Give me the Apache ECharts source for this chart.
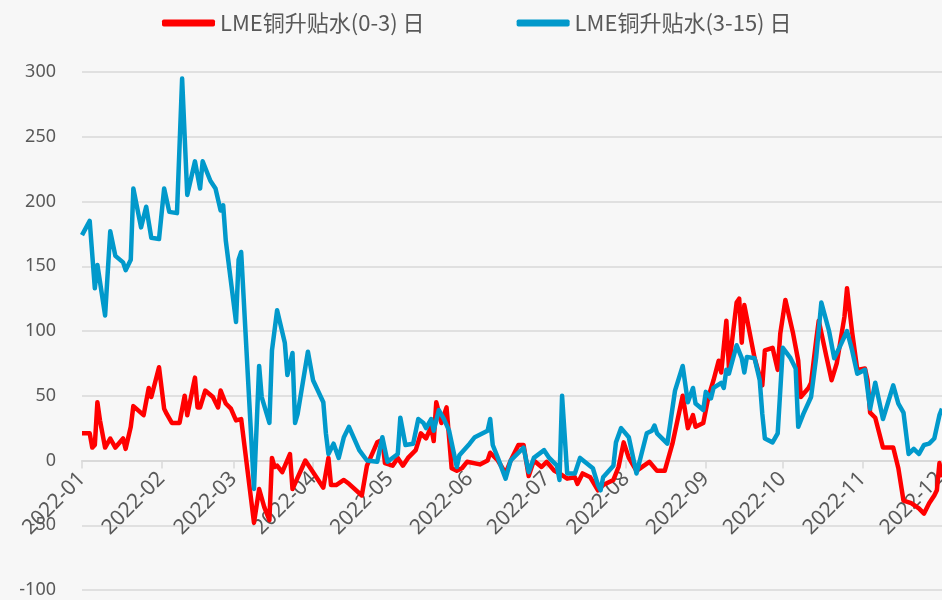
<!DOCTYPE html>
<html>
<head>
<meta charset="utf-8">
<script src="https://cdn.jsdelivr.net/npm/echarts/dist/echarts.min.js"></script>
<style>
  html, body { margin: 0; padding: 0; background: #f7f7f7; }
  #chart { width: 942px; height: 600px; }
</style>
</head>
<body>
<div id="chart"></div>
<script>
// 图例名称
const seriesNames = ['LME铜升贴水(0-3) 日', 'LME铜升贴水(3-15) 日']

// 0-3 升贴水 (日期 MM-DD, 2022年)
const redDates = [
  '01-01', '01-04', '01-05', '01-06', '01-07', '01-08', '01-10', '01-12', '01-14', '01-17',
  '01-18', '01-20', '01-21', '01-25', '01-27', '01-28', '01-31', '02-02', '02-03', '02-05',
  '02-08', '02-10', '02-11', '02-14', '02-15', '02-16', '02-18', '02-21', '02-23', '02-24',
  '02-26', '02-28', '03-02', '03-04', '03-09', '03-11', '03-13', '03-15', '03-16', '03-17',
  '03-18', '03-20', '03-23', '03-24', '03-29', '03-31', '04-05', '04-07', '04-08', '04-10',
  '04-13', '04-15', '04-20', '04-22', '04-26', '04-28', '04-29', '05-02', '05-04', '05-06',
  '05-08', '05-11', '05-13', '05-15', '05-17', '05-18', '05-19', '05-21', '05-23', '05-25',
  '05-27', '05-29', '05-31', '06-05', '06-08', '06-09', '06-12', '06-15', '06-17', '06-20',
  '06-22', '06-24', '06-26', '06-29', '07-01', '07-04', '07-06', '07-09', '07-12', '07-13',
  '07-15', '07-18', '07-21', '07-23', '07-27', '07-29', '07-31', '08-02', '08-05', '08-10',
  '08-13', '08-16', '08-19', '08-23', '08-25', '08-27', '08-28', '08-31', '09-02', '09-04',
  '09-06', '09-07', '09-09', '09-10', '09-13', '09-14', '09-15', '09-16', '09-20', '09-23',
  '09-24', '09-27', '09-29', '09-30', '10-02', '10-05', '10-07', '10-08', '10-11', '10-12',
  '10-14', '10-15', '10-18', '10-20', '10-22', '10-25', '10-26', '10-28', '10-30', '11-02',
  '11-03', '11-04', '11-06', '11-09', '11-13', '11-15', '11-17', '11-20', '11-23', '11-25',
  '11-27', '11-29', '11-30', '12-01', '12-02'
]
const redValues = [
  21, 21, 10, 12, 45, 31, 10, 17, 10, 17,
  9, 26, 42, 35, 56, 49, 72, 40, 36, 29,
  29, 50, 35, 64, 41, 41, 54, 49, 41, 54,
  44, 40, 31, 32, -48, -22, -36, -46, 2, -5,
  -4, -9, 5, -22, 0, -6, -21, 2, -19, -19,
  -15, -18, -27, -4, 14, 16, -2, -4, 2, -4,
  2, 8, 21, 17, 26, 15, 45, 29, 41, -6,
  -8, -6, -1, -3, 0, 6, 0, -10, 0, 12,
  12, -12, 0, -5, -1, -8, -10, -14, -13, -18,
  -10, -13, -23, -19, -15, -5, 14, 2, -8, -1,
  -8, -8, 13, 50, 25, 35, 26, 29, 49, 62,
  77, 68, 108, 72, 122, 125, 91, 120, 79, 58,
  85, 87, 70, 98, 124, 98, 77, 49, 56, 60,
  93, 108, 80, 62, 75, 111, 133, 99, 70, 71,
  62, 37, 33, 10, 10, -6, -31, -33, -37, -41,
  -33, -27, -23, -2, -13
]

// 3-15 升贴水
const blueDates = [
  '01-01', '01-04', '01-06', '01-07', '01-10', '01-12', '01-14', '01-17', '01-18', '01-20',
  '01-21', '01-24', '01-26', '01-28', '01-31', '02-02', '02-04', '02-07', '02-09', '02-11',
  '02-14', '02-16', '02-17', '02-20', '02-22', '02-24', '02-25', '02-26', '03-02', '03-03',
  '03-04', '03-09', '03-11', '03-12', '03-15', '03-16', '03-18', '03-21', '03-22', '03-24',
  '03-25', '03-26', '03-30', '04-01', '04-05', '04-06', '04-07', '04-09', '04-11', '04-13',
  '04-15', '04-19', '04-22', '04-26', '04-28', '04-30', '05-04', '05-05', '05-07', '05-10',
  '05-12', '05-14', '05-15', '05-17', '05-18', '05-20', '05-22', '05-24', '05-27', '05-28',
  '06-01', '06-03', '06-08', '06-09', '06-10', '06-12', '06-15', '06-17', '06-22', '06-24',
  '06-26', '06-30', '07-02', '07-05', '07-06', '07-07', '07-09', '07-12', '07-14', '07-19',
  '07-21', '07-22', '07-23', '07-27', '07-28', '07-30', '08-02', '08-05', '08-09', '08-11',
  '08-12', '08-13', '08-17', '08-20', '08-23', '08-25', '08-27', '08-28', '08-31', '09-01',
  '09-03', '09-04', '09-07', '09-08', '09-09', '09-10', '09-13', '09-15', '09-16', '09-17',
  '09-20', '09-22', '09-23', '09-24', '09-27', '09-29', '10-01', '10-04', '10-06', '10-07',
  '10-09', '10-12', '10-14', '10-16', '10-19', '10-21', '10-23', '10-26', '10-28', '10-30',
  '11-02', '11-04', '11-06', '11-09', '11-11', '11-13', '11-15', '11-17', '11-19', '11-21',
  '11-23', '11-25', '11-27', '11-29', '12-01', '12-02'
]
const blueValues = [
  174, 185, 133, 151, 112, 177, 158, 153, 147, 155,
  210, 180, 196, 172, 171, 210, 192, 191, 295, 205,
  231, 210, 231, 216, 210, 193, 197, 170, 107, 155,
  161, -22, 73, 49, 29, 85, 116, 91, 66, 83,
  29, 36, 84, 62, 45, 21, 5, 13, 2, 18,
  26, 8, 0, -1, 18, -1, 5, 33, 12, 13,
  32, 29, 25, 32, 23, 39, 32, 23, -5, 4,
  13, 18, 23, 32, 12, 2, -14, 0, 10, -9,
  2, 8, 2, -4, -15, 50, -10, -10, 2, -6,
  -19, -23, -13, -4, 14, 25, 18, -10, 21, 23,
  27, 21, 13, 54, 73, 45, 56, 44, 39, 53,
  48, 56, 60, 56, 70, 67, 89, 79, 68, 80,
  79, 62, 36, 17, 14, 21, 87, 79, 71, 26,
  36, 49, 80, 122, 100, 79, 87, 100, 85, 67,
  70, 40, 60, 32, 45, 58, 44, 37, 5, 9,
  5, 12, 13, 17, 35, 40
]

// y轴刻度
const yMin = -100
const yMax = 300
const yStep = 50

const toPairs = (dates, values) => dates.map((d, i) => ['2022-' + d, values[i]])

const chart = echarts.init(document.getElementById('chart'))
const gridTop = 72
const gridBottom = 10
// x轴放在 0 刻度线上 (绘图区高度 518px)
const zeroOffset = -(600 - gridTop - gridBottom) * (0 - yMin) / (yMax - yMin)

const option = {
  backgroundColor: '#f7f7f7',
  animation: false,
  color: ['#ff0000', '#0199cb'],
  legend: {
    top: 7,
    left: 157,
    icon: 'roundRect',
    itemWidth: 53,
    itemHeight: 7,
    itemGap: 92,
    textStyle: { fontSize: 22, color: '#595959', fontFamily: 'Noto Sans CJK SC' },
    data: seriesNames
  },
  grid: { left: 82, right: 0, top: gridTop, bottom: gridBottom, containLabel: false, outerBoundsMode: 'none' },
  xAxis: {
    type: 'time',
    min: '2022-01-01',
    max: '2022-12-02',
    splitNumber: 12,
    offset: zeroOffset,
    axisLine: { onZero: false, lineStyle: { color: '#d9d9d9', width: 2 } },
    axisTick: { show: true, length: 8, lineStyle: { color: '#d9d9d9', width: 1.5 } },
    axisLabel: {
      rotate: 45,
      fontSize: 21,
      color: '#595959',
      fontFamily: 'Noto Sans',
      margin: 15,
      hideOverlap: false,
      showMaxLabel: false,
      formatter: function (val) {
        const dt = new Date(val)
        const m = dt.getMonth() + 1
        return dt.getFullYear() + '-' + (m < 10 ? '0' + m : m)
      }
    },
    splitLine: { show: false }
  },
  yAxis: {
    type: 'value',
    min: yMin,
    max: yMax,
    interval: yStep,
    axisLine: { show: false },
    axisTick: { show: false },
    axisLabel: { fontSize: 18, color: '#595959', fontFamily: 'Noto Sans', margin: 26 },
    splitLine: { lineStyle: { color: '#d9d9d9', width: 1.5 } }
  },
  series: [
    {
      name: seriesNames[0],
      type: 'line',
      showSymbol: false,
      lineStyle: { width: 4.5, color: '#ff0000', join: 'round' },
      data: toPairs(redDates, redValues)
    },
    {
      name: seriesNames[1],
      type: 'line',
      showSymbol: false,
      lineStyle: { width: 4.5, color: '#0199cb', join: 'round' },
      data: toPairs(blueDates, blueValues)
    }
  ]
}
chart.setOption(option)
</script>
</body>
</html>
